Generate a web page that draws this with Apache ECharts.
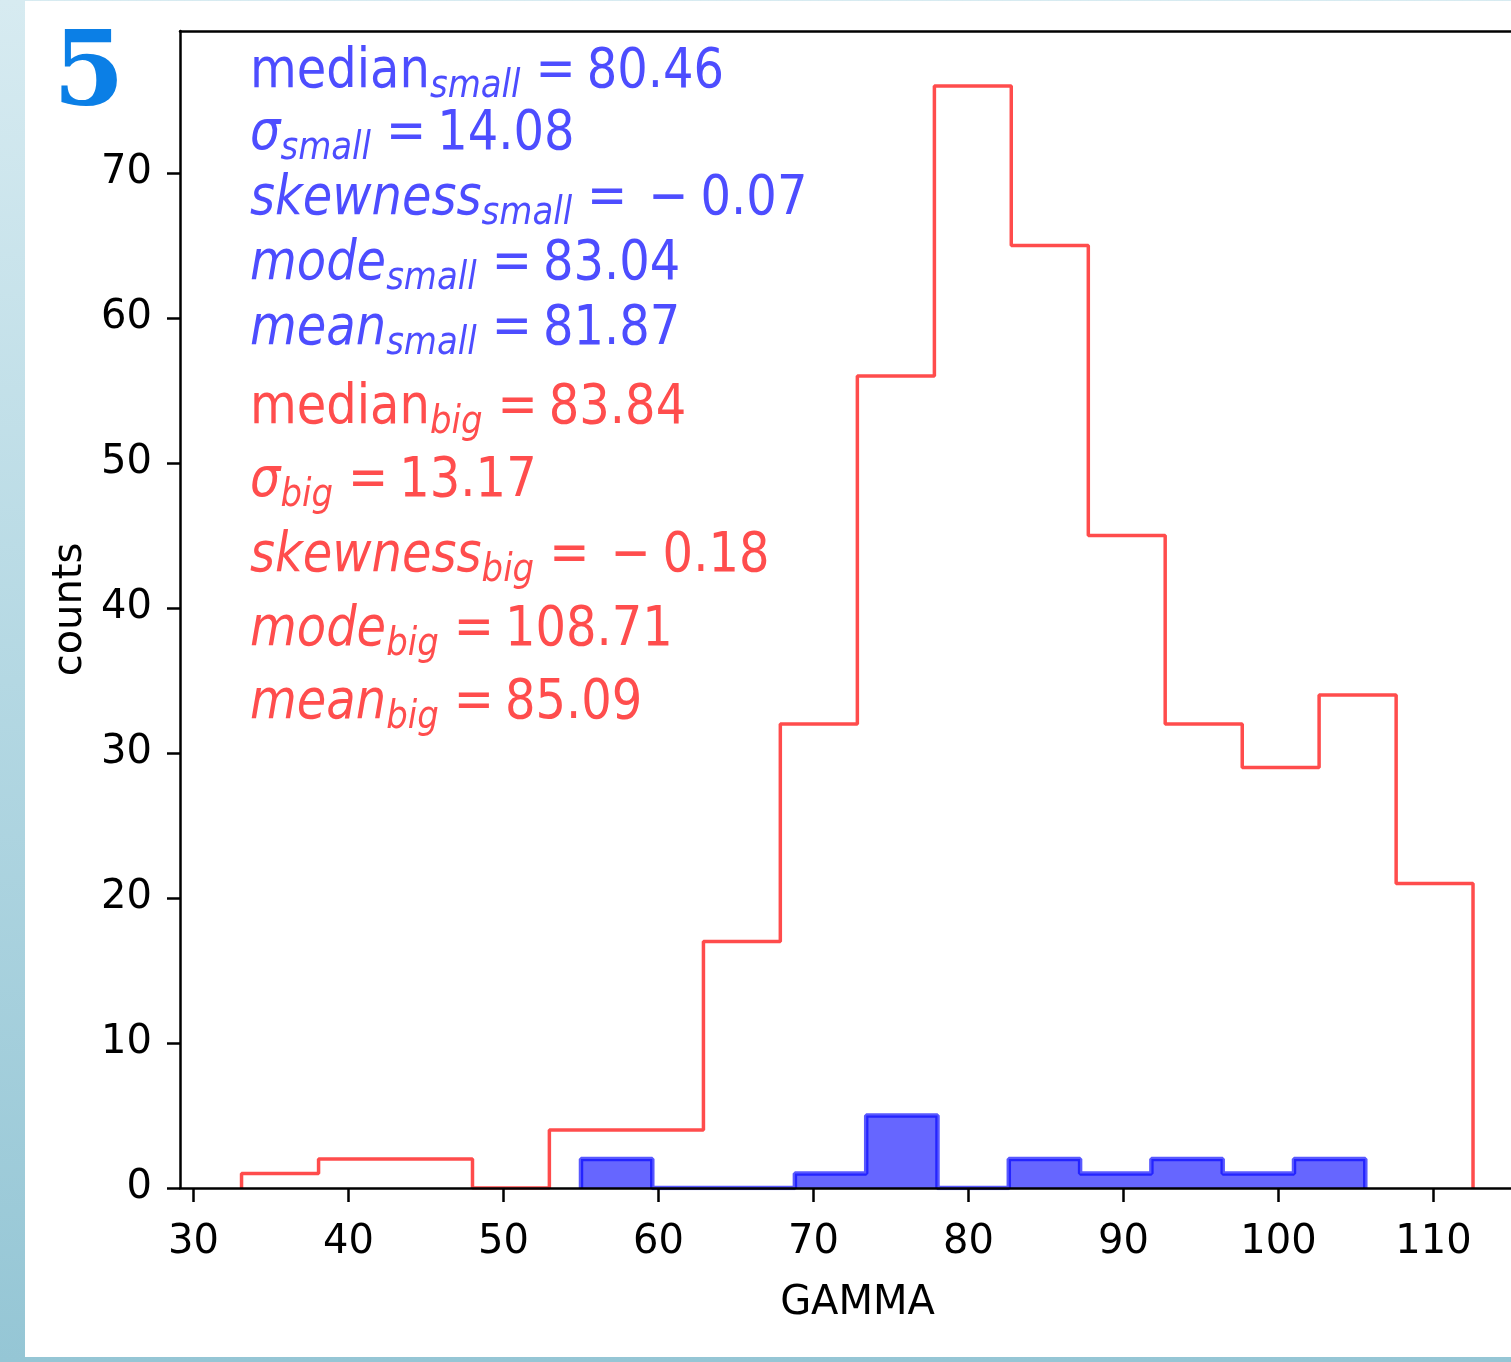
<!DOCTYPE html>
<html>
<head>
<meta charset="utf-8">
<script src="https://cdn.jsdelivr.net/npm/echarts@6/dist/echarts.min.js"></script>
<style>
  body {
    margin: 0;
    width: 1511px;
    height: 1362px;
    overflow: hidden;
    background: linear-gradient(to bottom, #d7ebf1 0%, #b4d8e3 50%, #95c6d5 100%);
  }
  #paper {
    position: absolute;
    left: 25px;
    top: 1px;
    width: 1486px;
    height: 1356px;
    background: #fff;
  }
  #chart {
    position: absolute;
    left: 0;
    top: 0;
    width: 1511px;
    height: 1362px;
  }
</style>
</head>
<body>
<div id="paper"></div>
<div id="chart"></div>
<script>
// histogram bins
const redEdges = [33.1, 38.07, 43.03, 48.0, 52.96, 57.93, 62.9, 67.86, 72.83, 77.8,
                  82.76, 87.73, 92.69, 97.66, 102.62, 107.59, 112.55];
const redCounts = [1, 2, 2, 0, 4, 4, 17, 32, 56, 76, 65, 45, 32, 29, 34, 21];
const blueEdges = [55.0, 59.6, 64.2, 68.8, 73.4, 78.0, 82.6, 87.2, 91.8, 96.4, 101.0, 105.6];
const blueCounts = [2, 0, 0, 1, 5, 0, 2, 1, 2, 1, 2];

const xTicks = [30, 40, 50, 60, 70, 80, 90, 100, 110];
const yTicks = [0, 10, 20, 30, 40, 50, 60, 70];

// [name, italic?, value]
const smallStats = [
  ['median', false, '80.46'],
  ['\u03c3', true, '14.08'],
  ['skewness', true, '-0.07'],
  ['mode', true, '83.04'],
  ['mean', true, '81.87']
];
const bigStats = [
  ['median', false, '83.84'],
  ['\u03c3', true, '13.17'],
  ['skewness', true, '-0.18'],
  ['mode', true, '108.71'],
  ['mean', true, '85.09']
];

const BLUE_TXT = '#4d4dff';
const RED_TXT = '#ff4d4d';

// outline of a histogram as step points
function stepPoints(edges, counts) {
  let pts = [[edges[0], 0]];
  counts.forEach((c, i) => pts.push([edges[i], c]));
  pts.push([edges[edges.length - 1], counts[counts.length - 1]]);
  pts.push([edges[edges.length - 1], 0]);
  return pts;
}

function richFor(color) {
  const base = {fontFamily: 'DejaVu Sans', fontSize: 48, lineHeight: 62, fill: color};
  return {
    up: Object.assign({}, base),
    it: Object.assign({}, base, {fontStyle: 'italic'}),
    sub: {fontFamily: 'DejaVu Sans', fontSize: 34, lineHeight: 36, fontStyle: 'italic',
          fill: color, padding: [24, 0, 0, 0]},
    eq: Object.assign({}, base, {padding: [0, 11, 0, 15]}),
    neg: Object.assign({}, base, {padding: [0, 12, 0, 10]}),
    num: Object.assign({}, base)
  };
}

function statLine(s, sub) {
  let str = '{' + (s[1] ? 'it' : 'up') + '|' + s[0] + '}{sub|' + sub + '}{eq|=}';
  if (s[2].charAt(0) === '-') {
    str += '{neg|\u2212}{num|' + s[2].slice(1) + '}';
  } else {
    str += '{num|' + s[2] + '}';
  }
  return str;
}

const smallTops = [37, 99, 164, 229, 294];
const bigTops = [373, 446, 521, 595, 668];
const graphics = [];
smallStats.forEach((s, i) => {
  graphics.push({
    type: 'text', x: 250, y: smallTops[i], scaleY: 1.16, z: 10,
    style: {text: statLine(s, 'small'), rich: richFor(BLUE_TXT), fill: BLUE_TXT,
            verticalAlign: 'top', align: 'left'}
  });
});
bigStats.forEach((s, i) => {
  graphics.push({
    type: 'text', x: 250, y: bigTops[i], scaleY: 1.16, z: 10,
    style: {text: statLine(s, 'big'), rich: richFor(RED_TXT), fill: RED_TXT,
            verticalAlign: 'top', align: 'left'}
  });
});
graphics.push({
  type: 'text', x: 53, y: 78, z: 10,
  style: {
    text: '5', fill: '#0b7fe6', align: 'left', verticalAlign: 'middle',
    font: 'bold 103px "DejaVu Serif"'
  }
});

const chart = echarts.init(document.getElementById('chart'), null, {renderer: 'canvas'});
const axisFont = {fontFamily: 'DejaVu Sans', fontSize: 40, color: '#000'};

chart.setOption({
  animation: false,
  backgroundColor: 'transparent',
  grid: {left: 180, top: 31, right: 0, height: 1157},
  xAxis: [
    {
      type: 'value', min: 29.13, max: 115.0, z: 5,
      name: 'GAMMA', nameLocation: 'middle', nameGap: 96,
      // the axis in the source runs past the picture edge, so its centre sits further right
      nameTextStyle: Object.assign({padding: [0, 0, 0, 24]}, axisFont),
      axisLine: {show: true, lineStyle: {color: '#000', width: 2.5}},
      axisTick: {show: true, customValues: xTicks, length: 14, lineStyle: {color: '#000', width: 2.5}},
      axisLabel: Object.assign({customValues: xTicks, margin: 35}, axisFont),
      splitLine: {show: false}
    },
    {
      // top spine only
      type: 'value', position: 'top', min: 29.13, max: 115.0, z: 5,
      axisLine: {show: true, lineStyle: {color: '#000', width: 2.5}},
      axisTick: {show: false}, axisLabel: {show: false}, splitLine: {show: false}
    }
  ],
  yAxis: {
    type: 'value', min: 0, max: 79.8, z: 5,
    name: 'counts', nameLocation: 'middle', nameGap: 88, nameRotate: 90,
    nameTextStyle: Object.assign({padding: [0, 0, 0, 0]}, axisFont),
    axisLine: {show: true, lineStyle: {color: '#000', width: 2.5}},
    axisTick: {show: true, customValues: yTicks, length: 13, lineStyle: {color: '#000', width: 2.5}},
    axisLabel: Object.assign({customValues: yTicks, margin: 28}, axisFont),
    splitLine: {show: false}
  },
  graphic: graphics,
  series: [
    {
      type: 'line', step: 'end', symbol: 'none',
      data: stepPoints(redEdges, redCounts),
      lineStyle: {color: 'rgba(255,0,0,0.7)', width: 3.5},
      z: 3
    },
    {
      type: 'line', step: 'end', symbol: 'none',
      data: stepPoints(blueEdges, blueCounts),
      lineStyle: {color: 'rgba(0,0,255,0.65)', width: 4.5},
      areaStyle: {color: 'rgba(0,0,255,0.6)', opacity: 1, origin: 0},
      z: 4
    }
  ]
});
</script>
</body>
</html>
